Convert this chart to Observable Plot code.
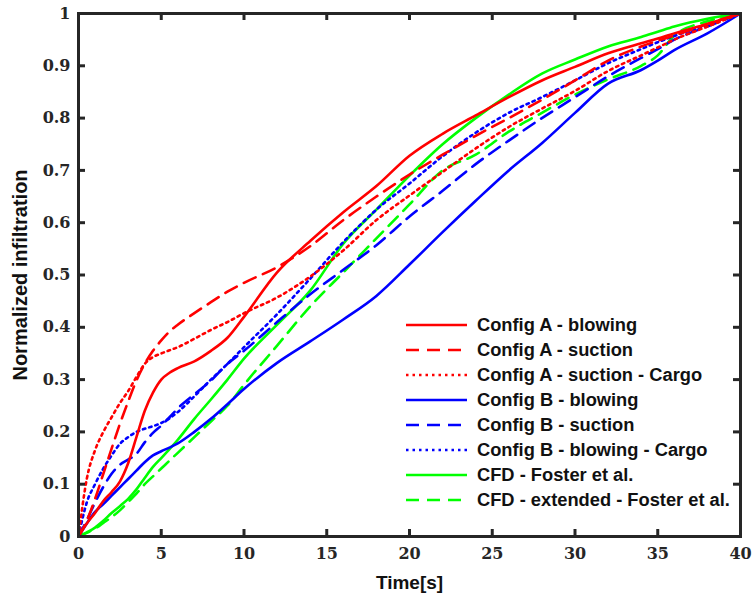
<!DOCTYPE html>
<html>
<head>
<meta charset="utf-8">
<script src="https://cdn.jsdelivr.net/npm/d3@7"></script>
<script src="https://cdn.jsdelivr.net/npm/@observablehq/plot@0.6"></script>
<style>
  html, body { margin: 0; padding: 0; background: #fff; }
  #wrap { position: relative; width: 754px; height: 601px; }
  #legend { position: absolute; left: 406px; top: 312px; font-family: "Liberation Sans", Arial, sans-serif; font-weight: bold; font-size: 18.3px; color: #111; }
  .row { display: flex; align-items: center; height: 25.1px; white-space: nowrap; }
  .row svg { margin-right: 10px; flex: none; }
</style>
</head>
<body>
<div id="wrap"><div id="legend"></div></div>
<script>
// ---- data ----
const time = [0,0.5,1,1.5,2,2.5,3,3.5,4,4.5,5,5.5,6,7,8,9,10,12,14,16,18,20,22,24,26,28,30,32,34,35,36,38,40];

const aBlowing      = [0,0.025,0.045,0.068,0.085,0.105,0.14,0.19,0.24,0.275,0.3,0.313,0.322,0.335,0.355,0.38,0.42,0.505,0.565,0.62,0.67,0.728,0.77,0.805,0.84,0.872,0.898,0.924,0.943,0.952,0.962,0.98,1];
const aSuction      = [0,0.03,0.072,0.12,0.168,0.215,0.258,0.298,0.33,0.355,0.375,0.392,0.405,0.427,0.448,0.468,0.485,0.515,0.555,0.605,0.65,0.692,0.73,0.766,0.8,0.835,0.872,0.91,0.937,0.948,0.958,0.98,1];
const aSuctionCargo = [0,0.11,0.165,0.2,0.228,0.255,0.278,0.305,0.33,0.343,0.35,0.356,0.362,0.378,0.395,0.41,0.427,0.457,0.497,0.547,0.605,0.652,0.697,0.742,0.783,0.818,0.852,0.89,0.92,0.935,0.95,0.975,1];
const bBlowing      = [0,0.025,0.047,0.062,0.078,0.094,0.11,0.126,0.142,0.155,0.163,0.17,0.178,0.2,0.225,0.253,0.282,0.332,0.373,0.415,0.46,0.52,0.582,0.642,0.7,0.752,0.81,0.866,0.892,0.91,0.93,0.962,1];
const bSuction      = [0,0.031,0.065,0.095,0.12,0.137,0.147,0.158,0.18,0.198,0.212,0.228,0.245,0.272,0.298,0.33,0.355,0.41,0.463,0.51,0.557,0.612,0.661,0.712,0.757,0.8,0.84,0.88,0.915,0.932,0.95,0.975,1];
const bBlowingCargo = [0,0.065,0.1,0.13,0.155,0.177,0.19,0.2,0.206,0.211,0.217,0.226,0.238,0.268,0.3,0.33,0.362,0.425,0.493,0.563,0.625,0.675,0.727,0.772,0.81,0.84,0.872,0.905,0.932,0.945,0.957,0.978,1];
const cfdFoster     = [0,0.008,0.017,0.03,0.045,0.058,0.072,0.09,0.112,0.133,0.15,0.167,0.185,0.225,0.262,0.3,0.34,0.405,0.47,0.56,0.625,0.69,0.75,0.8,0.845,0.885,0.912,0.937,0.955,0.965,0.975,0.99,1];
const cfdExtended   = [0,0.007,0.015,0.026,0.037,0.05,0.066,0.082,0.1,0.115,0.13,0.145,0.16,0.19,0.22,0.25,0.29,0.365,0.44,0.505,0.57,0.635,0.7,0.73,0.774,0.81,0.845,0.874,0.9,0.92,0.958,0.985,1];

const seriesNames  = ["Config A - blowing","Config A - suction","Config A - suction - Cargo","Config B - blowing","Config B - suction","Config B - blowing - Cargo","CFD - Foster et al.","CFD - extended - Foster et al."];
const seriesValues = [aBlowing, aSuction, aSuctionCargo, bBlowing, bSuction, bBlowingCargo, cfdFoster, cfdExtended];
const seriesColors = ["#ff0000","#ff0000","#ff0000","#0000ff","#0000ff","#0000ff","#00ff00","#00ff00"];
const seriesStyles = ["solid","dashed","dotted","solid","dashed","dotted","solid","dashed"];

const xTicks = [0,5,10,15,20,25,30,35,40];
const yTicks = [0,0.1,0.2,0.3,0.4,0.5,0.6,0.7,0.8,0.9,1];

// ---- layout ----
const W = 754, H = 601, mL = 78, mR = 14, mT = 13, mB = 65;
const plotW = W - mL - mR, plotH = H - mT - mB;
const axisColor = "#262626";
const tickLen = 7;
const dashFor = s => s === "dashed" ? "13,8" : s === "dotted" ? "2.5,4" : null;

const lineMarks = seriesNames.map((name, i) => {
  const data = time.map((t, j) => ({t, v: seriesValues[i][j]}));
  const opts = {x: "t", y: "v", stroke: seriesColors[i], strokeWidth: 2.6, curve: "monotone-x"};
  const dash = dashFor(seriesStyles[i]);
  if (dash) opts.strokeDasharray = dash;
  return Plot.line(data, opts);
});

const tickFont = {fontFamily: "DejaVu Serif, serif", fontSize: 16, fontWeight: "bold", fill: axisColor};
const titleFont = {fontFamily: "Liberation Sans, Arial, sans-serif", fontWeight: "bold", fontSize: 19, fill: "#111"};

const chart = Plot.plot({
  width: W, height: H,
  marginLeft: mL, marginRight: mR, marginTop: mT, marginBottom: mB,
  x: {domain: [0, 40]},
  y: {domain: [0, 1]},
  style: {background: "transparent"},
  marks: [
    ...lineMarks.slice().reverse(),
    Plot.frame({stroke: axisColor, strokeWidth: 3}),
    // inward ticks on all four sides
    Plot.tickX(xTicks, {x: d => d, insetTop: plotH - tickLen, stroke: axisColor, strokeWidth: 3}),
    Plot.tickX(xTicks, {x: d => d, insetBottom: plotH - tickLen, stroke: axisColor, strokeWidth: 3}),
    Plot.tickY(yTicks, {y: d => d, insetRight: plotW - tickLen, stroke: axisColor, strokeWidth: 3}),
    Plot.tickY(yTicks, {y: d => d, insetLeft: plotW - tickLen, stroke: axisColor, strokeWidth: 3}),
    Plot.axisX({ticks: xTicks, tickSize: 0, tickPadding: 11, tickFormat: d => String(d), label: null, ...tickFont}),
    Plot.axisY({ticks: yTicks, tickSize: 0, tickPadding: 8, tickFormat: d => String(d), label: null, ...tickFont}),
    Plot.text(["Time[s]"], {frameAnchor: "bottom", dy: 52, text: d => d, textAnchor: "middle", ...titleFont}),
    Plot.text(["Normalized infiltration"], {frameAnchor: "left", dx: -58, rotate: -90, textAnchor: "middle", text: d => d, ...titleFont, fontSize: 20})
  ]
});
document.getElementById("wrap").prepend(chart);

// ---- legend ----
const legend = document.getElementById("legend");
seriesNames.forEach((name, i) => {
  const row = document.createElement("div");
  row.className = "row";
  const dash = dashFor(seriesStyles[i]);
  row.innerHTML = `<svg width="61" height="6"><line x1="0" y1="3" x2="61" y2="3" stroke="${seriesColors[i]}" stroke-width="2.6"${dash ? ` stroke-dasharray="${dash}"` : ""}/></svg><span>${name}</span>`;
  legend.appendChild(row);
});
</script>
</body>
</html>
